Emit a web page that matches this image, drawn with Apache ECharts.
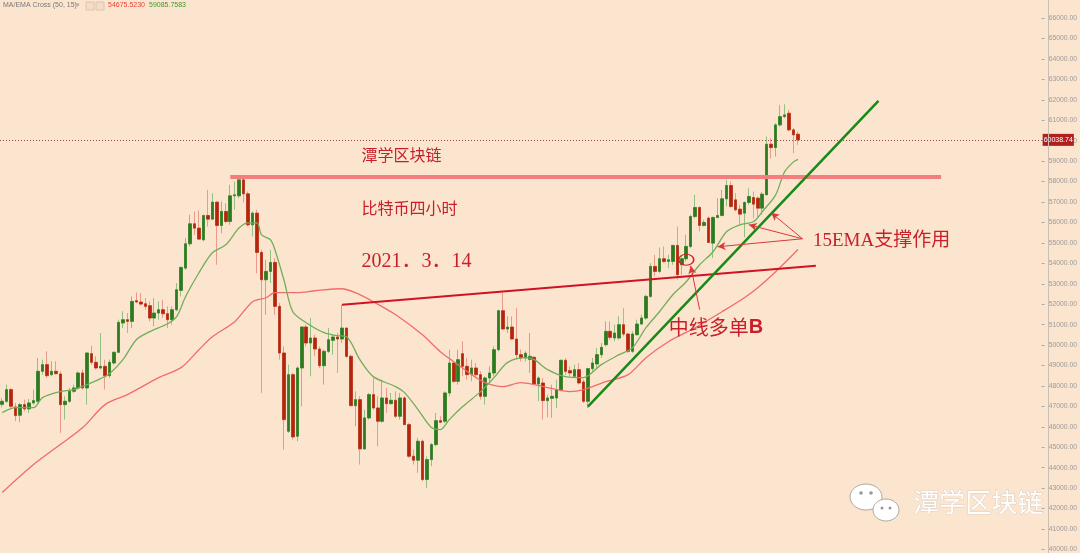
<!DOCTYPE html>
<html><head><meta charset="utf-8">
<script src="https://cdn.jsdelivr.net/npm/echarts@6/dist/echarts.min.js"></script>
<style>html,body{margin:0;padding:0;background:#fce5cf;}#c{width:1080px;height:553px;}</style>
</head><body><div id="c"></div>
<script>
// ---- data (4h BTC candles) ----
const opens = [47100,47250,47821,46974,46566,47088,46876,47169,47250,48717,
49043,48554,48717,48586,47088,47250,47739,47902,48635,47902,
49580,49157,48880,48961,48505,49124,49645,51079,51242,51160,
52170,52105,52023,51926,51323,51567,51730,51535,51242,51730,
52675,53766,54956,55933,55721,55151,56340,56161,56992,55852,
56536,56047,57301,57301,58083,57399,55884,56454,54532,53196,
53603,54043,51893,49612,45784,48553,45540,48879,50883,50101,
50345,49808,48993,49694,50232,50394,50296,50834,49449,47038,
47331,44921,46436,47576,46924,46273,47413,47136,47299,46517,
47413,46110,44562,44367,45295,43422,44399,45132,46305,46273,
47657,49123,48227,49580,48961,48553,48879,48553,47494,48390,
48635,49775,51681,50785,50883,50296,49531,49368,49300,49400,
48097,48146,47283,47397,47413,47820,49254,48749,48472,48798,
48195,47250,48847,49075,49531,50019,50671,50345,50345,50997,
50541,49694,50508,51029,51323,52381,53848,53603,54222,54092,
54092,54874,53929,54222,54825,56291,56731,55851,56210,54988,
56242,56340,57155,57806,57106,56650,56454,56975,57220,57187,
56698,57350,59826,59663,60771,61178,61341,60527,60315];
const closes = [47250,47821,47006,46550,47088,46876,47169,47283,48717,49043,
48505,48717,48603,47088,47250,47739,47902,48635,47902,49613,
49157,48880,48961,48505,49157,49645,51111,51242,51160,52137,
52105,52007,51893,51323,51567,51730,51535,51242,51730,52708,
53799,54956,55933,55721,55184,56340,56161,56992,55852,56536,
56047,57301,57350,58083,57399,55884,56454,54532,53196,53604,
54043,51893,49612,46354,48553,45507,48879,50883,50101,50345,
49808,48993,49694,50264,50394,50296,50834,49449,47038,47331,
44921,46436,47576,46924,46273,47413,47136,47299,46517,47413,
46110,44562,44367,45295,43422,44399,45132,46305,46224,47657,
49123,48227,49286,48961,48553,48879,48553,47494,48390,48635,
49775,51681,50785,50883,50296,49531,49368,49600,49450,48097,
48390,47283,47413,47494,47820,49254,48716,48635,48798,48146,
47250,48847,49124,49531,49889,50671,50378,50590,50997,50541,
49694,50541,51029,51323,52381,53848,53603,54222,54092,54173,
54874,53441,54222,54825,56291,56731,55851,55998,55020,56242,
56340,57155,57806,56780,56617,56405,56975,57269,56894,56698,
57383,59826,59663,60771,61178,61260,60527,60282,60038.74];
const lows = [46950,47169,46925,46273,46224,46762,46680,47088,47169,48554,
48391,48472,48554,45703,46355,47169,47658,47821,47821,47088,
49043,48798,48798,47821,48391,49043,49613,50834,50590,50834,
52056,51926,51730,51160,50916,51242,51323,50834,50997,51649,
52382,53685,54825,55395,55151,55070,55803,56129,53929,55477,
55966,55884,56617,57187,56976,55803,55314,53522,47658,51486,
53033,51485,49287,44888,45702,45377,45295,47006,49938,48472,
49449,48879,48065,49612,49531,48635,50101,49368,47006,46029,
44155,44888,46354,46843,45051,46191,46680,47087,46436,46354,
46110,44481,44155,43748,43341,43015,44074,45051,46191,46191,
47494,48146,48065,48472,48309,48227,48390,47331,47087,48146,
48472,49694,50752,50590,50264,49286,49205,49200,48635,48065,
47250,46355,46468,46436,46924,47739,48553,48472,48390,48065,
47169,46924,48716,48879,49368,49938,50264,50182,50264,50427,
49612,49612,50476,50997,51241,52300,53359,53522,54011,53766,
53929,53196,53441,54092,54744,56210,55558,55803,54988,54255,
56210,56291,56780,56698,56535,55884,55265,56861,56210,56242,
56373,57350,59142,59223,60690,61097,60445,59386,59793];
const highs = [47400,48065,47902,47169,47169,47332,47365,47821,49368,49287,
49694,49205,49205,48717,47495,47902,48065,48717,48798,49645,
49971,49450,50590,49287,49287,49694,51242,51649,51567,52382,
52577,52545,52300,52137,52300,52137,52219,51893,51893,53033,
53848,55233,56373,56536,56585,56373,57595,57432,57024,57024,
56943,57839,58002,58328,58165,57513,56536,56617,54662,54174,
54662,54255,52056,49938,49042,48635,48961,50915,50997,51323,
50508,49938,49775,50834,50508,50590,51974,50834,49531,47739,
47494,46843,47657,48390,47494,48309,47901,47657,47739,47657,
47494,46191,44888,45458,45377,44562,45214,46680,46517,47739,
49775,49205,49775,50182,49368,49286,49123,48716,48472,48961,
49938,51730,52544,51404,51404,51811,49775,49700,50590,49450,
48472,48390,47576,48065,48309,49286,49368,48961,49042,49123,
48309,48879,49368,49856,50101,51160,51160,50997,51404,51811,
50590,50671,51242,51486,52463,54011,54418,54776,54825,54418,
54906,55802,54336,55395,56373,57350,56780,56128,56291,56291,
57187,57594,58083,58002,57431,56861,57024,57676,57513,57268,
57480,60200,60119,60852,61748,61781,61504,60608,60445];

// MA(50) and EMA(15): [candle index, price]
const ma50Pts = [[0,42787],[7,44155],[13,45133],[18,45963],[23,47087],[28,47576],[35,48407],[40,48896],[44,49775],[47,50410],[52,51144],[56,52121],[59,52316],[61,52561],[66,52561],[70,52658],[76,52756],[79,52561],[83,52121],[88,51486],[94,50508],[98,49677],[101,49189],[105,48553],[108,48162],[112,47967],[116,48162],[119,48065],[122,47918],[127,47723],[130,47820],[135,48211],[140,48553],[144,49384],[149,50166],[155,50850],[161,51632],[166,52316],[169,52805],[173,53587],[178,54675.52]];
const ema15Pts = [[0,46696],[3,46941],[7,46941],[9,47429],[13,47723],[16,47820],[20,48162],[22,48358],[24,48602],[27,49286],[30,50264],[33,50655],[37,51046],[39,51388],[41,52365],[44,53538],[47,54516],[50,54907],[53,55737],[55,55982],[57,55982],[58,55395],[60,55151],[61,54662],[63,53196],[65,51632],[68,51095],[72,50606],[75,50459],[77,50410],[80,49286],[83,48456],[88,47967],[90,47674],[93,46843],[96,45963],[98,45866],[100,46354],[103,46990],[107,47723],[110,48407],[113,49140],[117,49384],[119,49286],[122,48798],[126,48456],[130,48407],[134,49042],[138,49531],[141,49873],[144,50850],[147,51632],[150,52463],[153,53098],[156,53929],[159,54564],[162,55542],[165,55884],[168,56031],[170,56519],[173,57350],[175,58474],[177,58963],[178,59085.76]];

// y-axis ticks
const yMin = 40000, yMax = 66000, yStep = 1000;
const lastPrice = 60038.74;
const legendValues = ['54675.5230', '59085.7583'];

// annotations in data space [candle index, price]
const resistance = [[51, 58230], [210, 58230]];
const redTrend = [[76, 51974], [182, 53880]];
const greenTrend = [[131, 46990], [196, 61944]];
const emaArrowFrom = [179, 55200];
const emaArrowTo = [[172, 56470], [167, 55884], [160, 54809]];
const bArrow = [[156, 51730], [154, 53880]];
const bCircle = [153, 54174];
const texts = [
  {t: '潭学区块链', at: [80, 59207], size: 16},
  {t: '比特币四小时', at: [80, 56617], size: 16},
  {t: '2021．3．14', at: [80, 54076], size: 20},
  {t: '15EMA支撑作用', at: [181, 55102], size: 19}
];
const bText = {at: [149, 50850]};

// ---- build ----
const N_SLOTS = 233;
const categories = Array.from({length: N_SLOTS}, (_, i) => 'k' + i);
const wicks = opens.map((o, i) => [o, closes[i], lows[i], highs[i]]);
const bodies = opens.map((o, i) => [o, closes[i], Math.min(o, closes[i]), Math.max(o, closes[i])]);

const RED = '#c8202a';
const CJK = "'Noto Sans CJK SC', sans-serif";
const SERIF = "'Liberation Serif', 'Noto Sans CJK SC', serif";

const ml = [];
ml.push({yAxis: lastPrice, lineStyle: {color: '#a84040', type: [1, 2], width: 1},
  label: {show: true, position: 'end', distance: 1, formatter: '60038.74', backgroundColor: '#b11e1e', color: '#fff',
    fontSize: 7, fontFamily: 'Liberation Sans', padding: [3, 1, 2, 1]}});
ml.push([{coord: resistance[0], lineStyle: {color: '#f47d7d', width: 4, type: 'solid'}}, {coord: resistance[1]}]);
ml.push([{coord: redTrend[0], lineStyle: {color: '#cf1322', width: 2, type: 'solid'}}, {coord: redTrend[1]}]);
ml.push([{coord: greenTrend[0], lineStyle: {color: '#178a17', width: 2.5, type: 'solid'}}, {coord: greenTrend[1]}]);
emaArrowTo.forEach(p => ml.push([{coord: emaArrowFrom, symbol: 'none', lineStyle: {color: '#d83a3a', width: 1, type: 'solid'}},
  {coord: p, symbol: 'arrow', symbolSize: [6, 8]}]));
ml.push([{coord: bArrow[0], symbol: 'none', lineStyle: {color: '#d83a3a', width: 1, type: 'solid'}},
  {coord: bArrow[1], symbol: 'arrow', symbolSize: [6, 8]}]);

const mp = texts.map(o => ({coord: o.at, symbol: 'circle', symbolSize: 1, itemStyle: {color: 'rgba(0,0,0,0)'},
  label: {show: true, position: 'right', distance: 1, formatter: o.t, color: RED, fontSize: o.size, fontFamily: SERIF}}));
mp.push({coord: bText.at, symbol: 'circle', symbolSize: 1, itemStyle: {color: 'rgba(0,0,0,0)'},
  label: {show: true, position: 'right', distance: 0, formatter: '{a|中线多单}{b|B}',
    rich: {a: {color: RED, fontSize: 20, fontFamily: CJK}, b: {color: RED, fontSize: 20, fontWeight: 'bold', fontFamily: 'Liberation Sans'}}}});
mp.push({coord: bCircle, symbol: 'circle', symbolSize: [15, 11],
  itemStyle: {color: 'rgba(0,0,0,0)', borderColor: '#d42020', borderWidth: 1.4}, label: {show: false}});

const chart = echarts.init(document.getElementById('c'), null, {renderer: 'canvas'});
chart.setOption({
  animation: false,
  backgroundColor: '#fce5cf',
  grid: {left: -1.75, right: 33, top: 18, bottom: 3},
  xAxis: {type: 'category', data: categories, boundaryGap: true, show: false},
  yAxis: {type: 'value', position: 'right', min: yMin, max: yMax, interval: yStep, scale: true,
    axisLine: {show: false}, splitLine: {show: false},
    axisTick: {show: true, length: 3, lineStyle: {color: '#aaa'}},
    axisLabel: {color: '#9a9a9a', fontSize: 6.8, fontFamily: 'Liberation Sans', margin: 7, formatter: v => v.toFixed(2)}},
  series: [
    {type: 'candlestick', name: 'wick', data: wicks, barWidth: 3, silent: true,
      itemStyle: {color: 'rgba(0,0,0,0)', color0: 'rgba(0,0,0,0)', borderColor: '#93bf80', borderColor0: '#e99a88', borderColorDoji: '#e99a88', borderWidth: 1}},
    {type: 'candlestick', name: 'body', data: bodies, barWidth: 3, silent: true,
      itemStyle: {color: '#2e7a20', color0: '#b3260c', borderColor: '#2e7a20', borderColor0: '#b3260c', borderColorDoji: '#b3260c', borderWidth: 0.6}},
    {type: 'line', name: 'MA50', data: ma50Pts, showSymbol: false, smooth: 0.3, silent: true,
      lineStyle: {color: '#f26b6b', width: 1.3}},
    {type: 'line', name: 'EMA15', data: ema15Pts, showSymbol: false, smooth: 0.3, silent: true,
      lineStyle: {color: '#6faf5a', width: 1.3}},
    {type: 'line', name: 'annot', data: [], silent: true,
      markLine: {silent: true, symbol: ['none', 'none'], label: {show: false}, data: ml},
      markPoint: {silent: true, data: mp}}
  ],
  graphic: [
    {type: 'line', shape: {x1: 1048.5, y1: 0, x2: 1048.5, y2: 553}, style: {stroke: '#cbbfb3', lineWidth: 1}, z: 10},
    {type: 'text', left: 3, top: 2, style: {text: 'MA/EMA Cross (50, 15)', fill: '#777', font: '7px Liberation Sans'}},
    {type: 'text', left: 76, top: 2, style: {text: '▾', fill: '#aaa', font: '7px DejaVu Sans'}},
    {type: 'rect', shape: {x: 86, y: 2, width: 8, height: 8}, style: {fill: '#f4ddc8', stroke: '#d8c4b0'}},
    {type: 'rect', shape: {x: 96, y: 2, width: 8, height: 8}, style: {fill: '#f4ddc8', stroke: '#d8c4b0'}},
    {type: 'text', left: 108, top: 2, style: {text: legendValues[0], fill: '#e8423a', font: '7px Liberation Sans'}},
    {type: 'text', left: 149, top: 2, style: {text: legendValues[1], fill: '#3c9a2c', font: '7px Liberation Sans'}},
    // watermark
    {type: 'ellipse', shape: {cx: 866, cy: 497, rx: 16, ry: 13}, style: {fill: '#fff', stroke: '#b0a8a0', lineWidth: 1}},
    {type: 'ellipse', shape: {cx: 886, cy: 510, rx: 13, ry: 11}, style: {fill: '#fff', stroke: '#b0a8a0', lineWidth: 1}},
    {type: 'circle', shape: {cx: 861, cy: 493, r: 1.8}, style: {fill: '#999'}},
    {type: 'circle', shape: {cx: 871, cy: 493, r: 1.8}, style: {fill: '#999'}},
    {type: 'circle', shape: {cx: 882, cy: 508, r: 1.5}, style: {fill: '#999'}},
    {type: 'circle', shape: {cx: 890, cy: 508, r: 1.5}, style: {fill: '#999'}},
    {type: 'text', left: 913, top: 489, style: {text: '潭学区块链', fill: '#fff', font: '26px Noto Sans CJK SC',
      stroke: '#c8bcb0', lineWidth: 0.6, shadowColor: 'rgba(0,0,0,0.35)', shadowBlur: 3, shadowOffsetX: 1, shadowOffsetY: 1}}
  ]
});
</script></body></html>
